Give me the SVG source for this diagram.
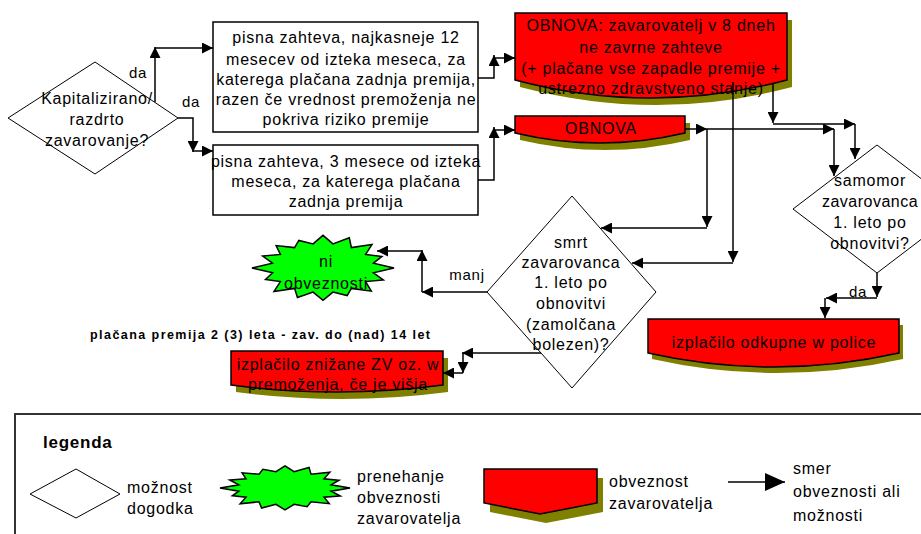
<svg xmlns="http://www.w3.org/2000/svg" xmlns:xlink="http://www.w3.org/1999/xlink" width="921" height="534" viewBox="0 0 921 534">
<style>
.box{fill:#fff;stroke:#000;stroke-width:1.5}
.dia{fill:#fff;stroke:#000;stroke-width:1}
.red{fill:#ff0000;stroke:#000;stroke-width:1.5}
.sh{fill:#808000}
.star{fill:#00ff00;stroke:#000;stroke-width:1.5}
.t{font-family:"Liberation Sans",Arial,sans-serif;font-size:16px;fill:#000;text-anchor:middle;letter-spacing:0.75px}
.l{text-anchor:start}
.c{fill:none;stroke:#000;stroke-width:1.5;marker-end:url(#ah)}
</style>
<defs>
<marker id="ah" markerUnits="userSpaceOnUse" markerWidth="11" markerHeight="11" refX="10" refY="5" orient="auto" viewBox="0 0 10 10">
<path d="M0,0 L10,5 L0,10 Z" fill="#000"/>
</marker>
<marker id="ahL" markerUnits="userSpaceOnUse" markerWidth="20" markerHeight="18" refX="20" refY="9" orient="auto" viewBox="0 0 20 18">
<path d="M0,0 L20,9 L0,18 Z" fill="#000"/>
</marker>
<polygon id="starshape" vector-effect="non-scaling-stroke" points="100,0 71,14 85,35 60,40 68,68 40,60 34,81 14,71 0,95 -14,71 -36,87 -40,60 -69,69 -60,40 -81,34 -71,14 -100,0 -71,-14 -85,-35 -60,-40 -66,-66 -40,-60 -34,-81 -14,-71 0,-96 14,-71 37,-89 40,-60 69,-69 60,-40 83,-34 71,-14"/>
</defs>
<rect width="921" height="534" fill="#fff"/>

<g id="n-kapital">
<polygon class="dia" points="8,118 95,62 178,118 95,174"/>
<text class="t" x="97" y="104">Kapitalizirano/</text>
<text class="t" x="97" y="125">razdrto</text>
<text class="t" x="97" y="146">zavarovanje?</text>
</g>

<g id="n-pisna12">
<rect class="box" x="213" y="22" width="265" height="110"/>
<text class="t" x="346" y="43">pisna zahteva, najkasneje 12</text>
<text class="t" x="346" y="65">mesecev od izteka meseca, za</text>
<text class="t" x="346" y="85">katerega plačana zadnja premija,</text>
<text class="t" x="346" y="105">razen če vrednost premoženja ne</text>
<text class="t" x="346" y="125">pokriva riziko premije</text>
</g>

<g id="n-pisna3">
<rect class="box" x="213" y="145" width="265" height="70"/>
<text class="t" x="346" y="167">pisna zahteva, 3 mesece od izteka</text>
<text class="t" x="346" y="187">meseca, za katerega plačana</text>
<text class="t" x="346" y="207">zadnja premija</text>
</g>

<g id="n-obnova1">
<path class="sh" transform="translate(5,7)" d="M515,13 H787 V80 Q651,116 515,80 Z"/>
<path class="red" d="M515,13 H787 V80 Q651,116 515,80 Z"/>
<text class="t" x="651" y="31">OBNOVA: zavarovatelj v 8 dneh</text>
<text class="t" x="651" y="53">ne zavrne zahteve</text>
<text class="t" x="651" y="74">(+ plačane vse zapadle premije +</text>
<text class="t" x="651" y="94">ustrezno zdravstveno stanje)</text>
</g>

<g id="n-obnova2">
<path class="sh" transform="translate(5,7)" d="M515,116 H685 V133 Q600,153 515,133 Z"/>
<path class="red" d="M515,116 H685 V133 Q600,153 515,133 Z"/>
<text class="t" x="601" y="134">OBNOVA</text>
</g>

<g id="n-samomor">
<polygon class="dia" points="877,145 961,209 877,273 793,209"/>
<text class="t" x="870" y="186">samomor</text>
<text class="t" x="870" y="207" style="letter-spacing:0.5px">zavarovanca</text>
<text class="t" x="870" y="228">1. leto po</text>
<text class="t" x="870" y="249">obnovitvi?</text>
</g>

<g id="n-smrt">
<polygon class="dia" points="572,196 656,292 572,388 487,292"/>
<text class="t" x="571" y="248">smrt</text>
<text class="t" x="571" y="268">zavarovanca</text>
<text class="t" x="571" y="288">1. leto po</text>
<text class="t" x="571" y="309">obnovitvi</text>
<text class="t" x="571" y="330">(zamolčana</text>
<text class="t" x="571" y="350">bolezen)?</text>
</g>

<g id="n-ni">
<use xlink:href="#starshape" href="#starshape" class="star" transform="translate(323,268) scale(0.71,0.34)"/>
<text class="t" x="326" y="267">ni</text>
<text class="t" x="326" y="289">obveznosti</text>
</g>

<g id="n-odkupne">
<path class="sh" transform="translate(4,6)" d="M648,319 H899 V353 Q773,381 648,353 Z"/>
<path class="red" d="M648,319 H899 V353 Q773,381 648,353 Z"/>
<text class="t" x="774" y="348">izplačilo odkupne w police</text>
</g>

<g id="n-znizane">
<path class="sh" transform="translate(5,7)" d="M231,351 H443 V385 Q337,399 231,385 Z"/>
<path class="red" d="M231,351 H443 V385 Q337,399 231,385 Z"/>
<text class="t" x="338" y="370">izplačilo znižane ZV oz. w</text>
<text class="t" x="338" y="390">premoženja, če je višja</text>
</g>

<g id="n-note">
<text class="t l" x="90" y="339" style="font-size:12.5px;font-weight:bold;letter-spacing:0" textLength="340" lengthAdjust="spacing">plačana premija 2 (3) leta - zav. do (nad) 14 let</text>
</g>

<g id="connectors">
<path class="c" d="M155,102 V47"/>
<path class="c" d="M155,48 H213"/>
<path class="c" d="M178,118 H193 V152"/>
<path class="c" d="M193,151 H213"/>
<path class="c" d="M478,78 H494 V55"/>
<path class="c" d="M494,58 H515"/>
<path class="c" d="M478,180 H494 V127"/>
<path class="c" d="M494,130 H515"/>
<path class="c" d="M685,129 H707"/>
<path class="c" d="M707,129 H834"/>
<path class="c" d="M834,129 V176"/>
<path class="c" d="M707,129 V227"/>
<path class="c" d="M707,228 H601"/>
<path class="c" d="M773,84 V123"/>
<path class="c" d="M773,124 H855"/>
<path class="c" d="M855,124 V159"/>
<path class="c" d="M733,82 V262"/>
<path class="c" d="M733,263 H632"/>
<path class="c" d="M877,273 V297"/>
<path class="c" d="M877,298 H826"/>
<path class="c" d="M825,298 V318"/>
<path class="c" d="M487,292 H422"/>
<path class="c" d="M422,292 V250"/>
<path class="c" d="M422,251 H377"/>
<path class="c" d="M541,353 H462"/>
<path class="c" d="M463,353 V373"/>
<path class="c" d="M463,373 H443"/>
<text class="t" x="138" y="78" style="font-size:15px">da</text>
<text class="t" x="191" y="107" style="font-size:15px">da</text>
<text class="t" x="467" y="280" style="font-size:15px">manj</text>
<text class="t" x="858" y="297" style="font-size:15px">da</text>
</g>

<g id="legend">
<rect x="15" y="414" width="920" height="140" fill="none" stroke="#333" stroke-width="2"/>
<text class="t l" x="43" y="448" style="font-weight:bold;font-size:17px">legenda</text>
<polygon class="dia" points="30,494 76,469 120,494 76,518"/>
<text class="t l" x="127" y="493">možnost</text>
<text class="t l" x="127" y="514">dogodka</text>
<use xlink:href="#starshape" href="#starshape" class="star" transform="translate(285,488) scale(0.65,0.23)"/>
<text class="t l" x="357" y="482">prenehanje</text>
<text class="t l" x="357" y="503">obveznosti</text>
<text class="t l" x="357" y="524">zavarovatelja</text>
<path class="sh" transform="translate(6,9)" d="M484,469 H597 V503 L540,514 L484,503 Z"/>
<path class="red" d="M484,469 H597 V503 L540,514 L484,503 Z"/>
<text class="t l" x="609" y="487">obveznost</text>
<text class="t l" x="609" y="509">zavarovatelja</text>
<path d="M728,482 H785" stroke="#000" stroke-width="1.5" fill="none" marker-end="url(#ahL)"/>
<text class="t l" x="793" y="474">smer</text>
<text class="t l" x="793" y="497">obveznosti ali</text>
<text class="t l" x="793" y="521">možnosti</text>
</g>
</svg>
